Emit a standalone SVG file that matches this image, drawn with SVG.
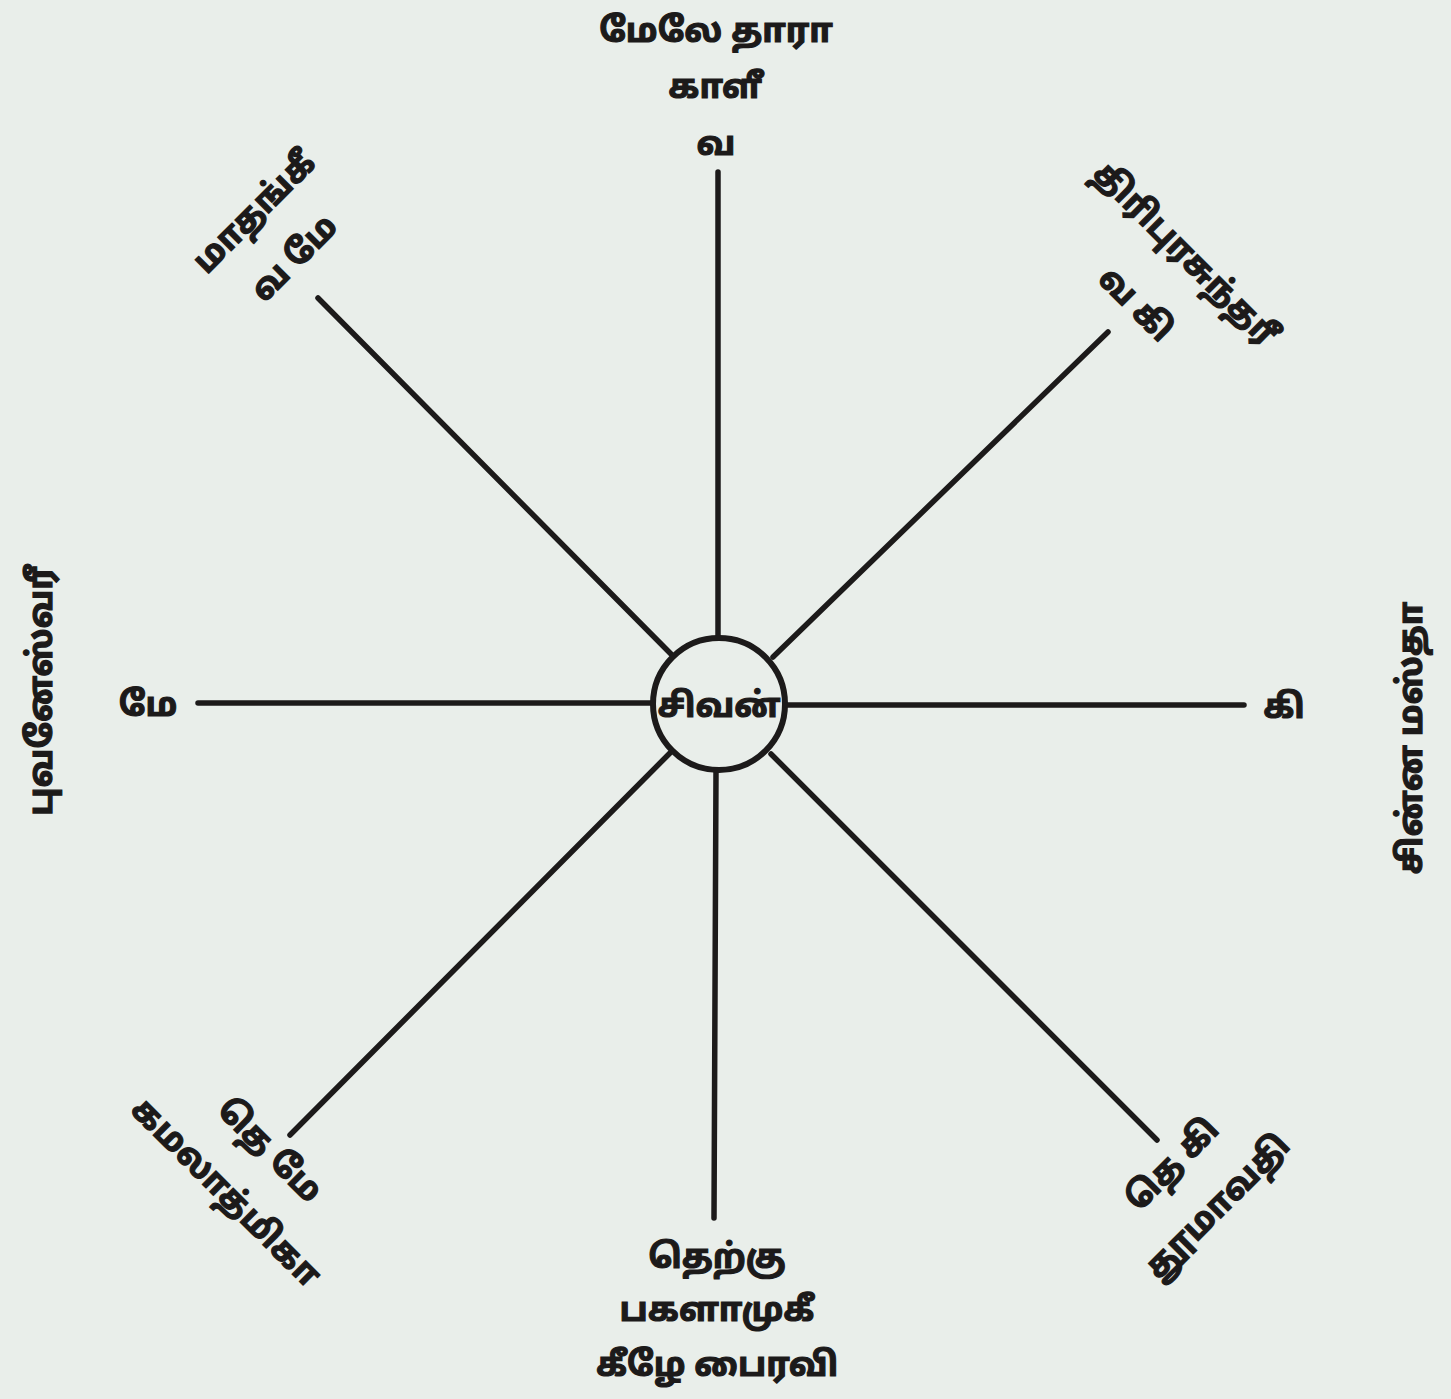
<svg xmlns="http://www.w3.org/2000/svg" width="1451" height="1399" viewBox="0 0 1451 1399">
<style>
.l{stroke:#1c1a1a;stroke-width:5.5;stroke-linecap:round;fill:none}
.t{font-family:"Noto Sans Tamil","Noto Sans","Lato",sans-serif;font-weight:bold;font-size:34px;fill:#1c1a1a;stroke:#1c1a1a;stroke-width:1.2;text-anchor:middle}
</style>
<rect width="1451" height="1399" fill="#e9eeea"/>
<g id="connectors">
<line class="l" x1="718" y1="172" x2="718" y2="637"/>
<line class="l" x1="716" y1="771" x2="714" y2="1218"/>
<line class="l" x1="198" y1="703" x2="652" y2="703"/>
<line class="l" x1="786" y1="705" x2="1244" y2="705"/>
<line class="l" x1="318" y1="298" x2="671" y2="654"/>
<line class="l" x1="1108" y1="332" x2="773" y2="657"/>
<line class="l" x1="290" y1="1135" x2="670" y2="753"/>
<line class="l" x1="1157" y1="1140" x2="771" y2="754"/>
</g>
<g id="center"><circle cx="719" cy="704" r="66" fill="none" stroke="#1c1a1a" stroke-width="6"/><text class="t" x="719" y="717">சிவன்</text></g>
<g id="north"><text class="t" x="716" y="42">மேலே தாரா</text><text class="t" x="716" y="98">காளீ</text><text class="t" x="716" y="155">வ</text></g>
<g id="northwest"><text class="t" transform="translate(262,220) rotate(-45)">மாதங்கீ</text><text class="t" transform="translate(302,266) rotate(-45)">வ மே</text></g>
<g id="northeast"><text class="t" transform="translate(1178,262) rotate(45)">திரிபுரசுந்தரீ</text><text class="t" transform="translate(1128,312) rotate(45)">வ கி</text></g>
<g id="west"><text class="t" transform="translate(52,690) rotate(-90)">புவனேஸ்வரீ</text><text class="t" x="148" y="716">மே</text></g>
<g id="east"><text class="t" transform="translate(1422,738) rotate(-90)">சின்ன மஸ்தா</text><text class="t" x="1284" y="718">கி</text></g>
<g id="southwest"><text class="t" transform="translate(262,1158) rotate(45)">தெ மே</text><text class="t" transform="translate(218,1200) rotate(45)">கமலாத்மிகா</text></g>
<g id="southeast"><text class="t" transform="translate(1180,1172) rotate(-45)">தெ கி</text><text class="t" transform="translate(1225,1214) rotate(-45)">தூமாவதி</text></g>
<g id="south"><text class="t" x="717" y="1268">தெற்கு</text><text class="t" x="717" y="1321">பகளாமுகீ</text><text class="t" x="717" y="1376">கீழே பைரவி</text></g>
</svg>
